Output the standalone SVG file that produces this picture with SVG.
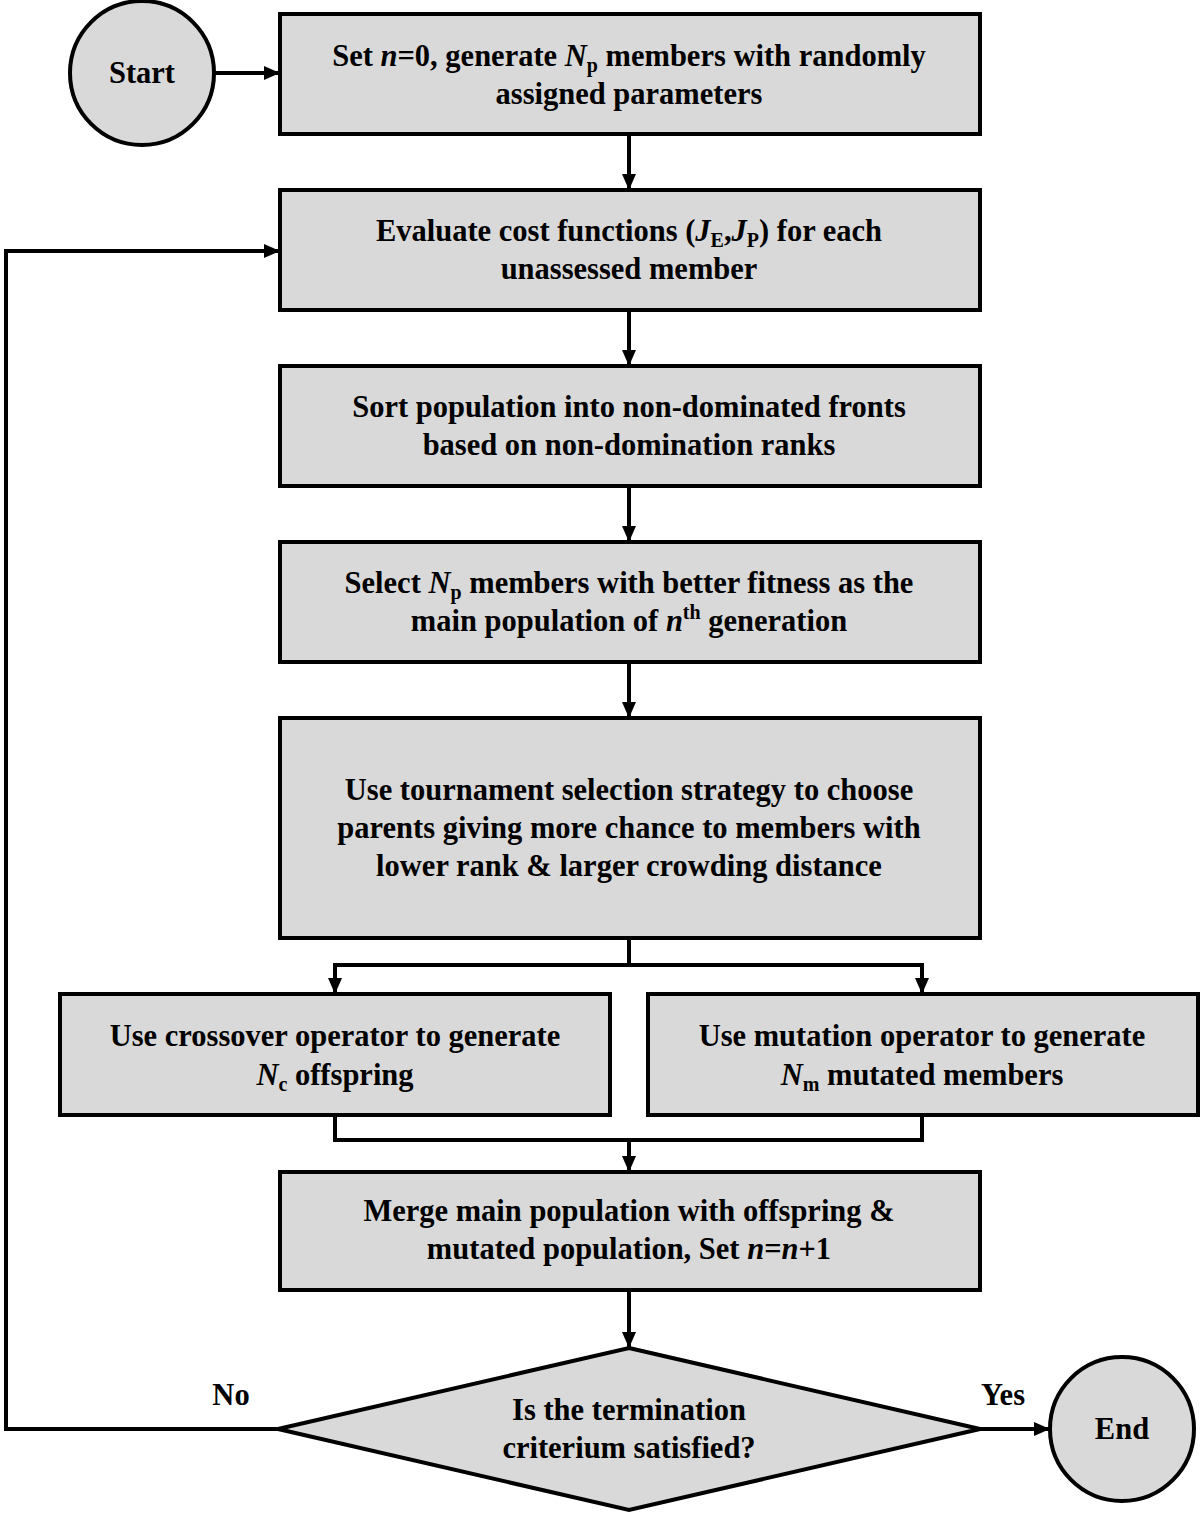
<svg xmlns="http://www.w3.org/2000/svg" width="1200" height="1515" viewBox="0 0 1200 1515">
<defs>
<style>
.n{fill:#d9d9d9;stroke:#000;stroke-width:4}
.c{fill:none;stroke:#000;stroke-width:4}
text{font-family:"Liberation Serif","Times New Roman",serif;font-weight:bold;font-size:30.5px;text-anchor:middle;fill:#000}
.i{font-style:italic}
.s{font-size:20px}
</style>
<marker id="a" markerWidth="16" markerHeight="14" refX="15" refY="7" orient="auto" markerUnits="userSpaceOnUse" viewBox="0 0 16 14">
<path d="M0,0 L16,7 L0,14 z" fill="#000"/>
</marker>
</defs>
<rect width="1200" height="1515" fill="#fff"/>
<g id="connectors">
<line class="c" x1="214" y1="73" x2="279" y2="73" marker-end="url(#a)"/>
<line class="c" x1="629" y1="134" x2="629" y2="189" marker-end="url(#a)"/>
<line class="c" x1="629" y1="310" x2="629" y2="365" marker-end="url(#a)"/>
<line class="c" x1="629" y1="486" x2="629" y2="541" marker-end="url(#a)"/>
<line class="c" x1="629" y1="662" x2="629" y2="717" marker-end="url(#a)"/>
<polyline class="c" points="629,938 629,965"/>
<polyline class="c" points="335,993 335,965 922,965 922,993" marker-end="url(#a)"/>
<line class="c" x1="335" y1="967" x2="335" y2="993" marker-end="url(#a)"/>
<polyline class="c" points="335,1115 335,1140 922,1140 922,1115"/>
<line class="c" x1="629" y1="1140" x2="629" y2="1171" marker-end="url(#a)"/>
<line class="c" x1="629" y1="1290" x2="629" y2="1347" marker-end="url(#a)"/>
<polyline class="c" points="278,1429 6,1429 6,251 279,251" marker-end="url(#a)"/>
<line class="c" x1="980" y1="1429" x2="1049" y2="1429" marker-end="url(#a)"/>
</g>
<g id="start">
<circle class="n" cx="142" cy="73" r="72"/>
<text x="142" y="83">Start</text>
</g>
<g id="init">
<rect class="n" x="280" y="14" width="700" height="120"/>
<text x="629" y="66">Set <tspan class="i">n</tspan>=0, generate <tspan class="i">N</tspan><tspan class="s" dy="6">p</tspan><tspan dy="-6"> members with randomly</tspan></text>
<text x="629" y="104">assigned parameters</text>
</g>
<g id="evaluate">
<rect class="n" x="280" y="190" width="700" height="120"/>
<text x="629" y="241">Evaluate cost functions (<tspan class="i">J</tspan><tspan class="s" dy="6">E</tspan><tspan dy="-6">,</tspan><tspan class="i">J</tspan><tspan class="s" dy="6">P</tspan><tspan dy="-6">)  for each</tspan></text>
<text x="629" y="279">unassessed member</text>
</g>
<g id="sort">
<rect class="n" x="280" y="366" width="700" height="120"/>
<text x="629" y="417">Sort population into non-dominated fronts</text>
<text x="629" y="455">based on non-domination ranks</text>
</g>
<g id="select">
<rect class="n" x="280" y="542" width="700" height="120"/>
<text x="629" y="593">Select <tspan class="i">N</tspan><tspan class="s" dy="6">p</tspan><tspan dy="-6"> members with better fitness as the</tspan></text>
<text x="629" y="631">main population of <tspan class="i">n</tspan><tspan class="s" dy="-12">th</tspan><tspan dy="12"> generation</tspan></text>
</g>
<g id="tournament">
<rect class="n" x="280" y="718" width="700" height="220"/>
<text x="629" y="800">Use tournament selection strategy to choose</text>
<text x="629" y="838">parents giving more chance to members with</text>
<text x="629" y="876">lower rank &amp; larger crowding distance</text>
</g>
<g id="crossover">
<rect class="n" x="60" y="994" width="550" height="121"/>
<text x="335" y="1046">Use crossover operator to generate</text>
<text x="335" y="1085"><tspan class="i">N</tspan><tspan class="s" dy="6">c</tspan><tspan dy="-6"> offspring</tspan></text>
</g>
<g id="mutation">
<rect class="n" x="648" y="994" width="550" height="121"/>
<text x="922" y="1046">Use mutation operator to generate</text>
<text x="922" y="1085"><tspan class="i">N</tspan><tspan class="s" dy="6">m</tspan><tspan dy="-6"> mutated members</tspan></text>
</g>
<g id="merge">
<rect class="n" x="280" y="1172" width="700" height="118"/>
<text x="629" y="1221">Merge main population with offspring &amp;</text>
<text x="629" y="1259">mutated population, Set <tspan class="i">n</tspan>=<tspan class="i">n</tspan>+1</text>
</g>
<g id="decision">
<polygon class="n" points="629,1348 980,1429 629,1510 278,1429"/>
<text x="629" y="1420">Is the termination</text>
<text x="629" y="1458">criterium satisfied?</text>
</g>
<g id="labels">
<text x="231" y="1405">No</text>
<text x="1003" y="1405">Yes</text>
</g>
<g id="end">
<circle class="n" cx="1122" cy="1429" r="72"/>
<text x="1122" y="1439">End</text>
</g>
</svg>
